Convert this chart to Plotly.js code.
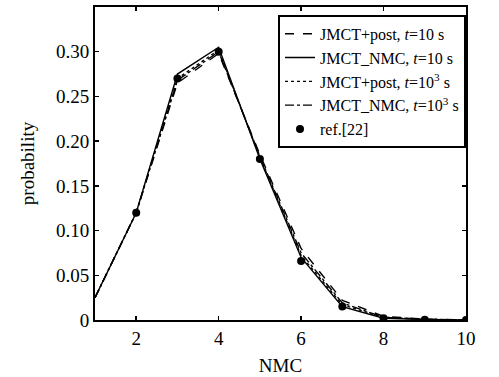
<!DOCTYPE html>
<html><head><meta charset="utf-8">
<script src="https://cdn.plot.ly/plotly-3.0.1.min.js"></script>
<style>body{margin:0;background:#fff}#c{width:499px;height:377px}</style>
</head><body><div id="c"></div>
<script>
const nmc = [1,2,3,4,5,6,7,8,9,10];
const postT10 = [0.025,0.12,0.265,0.298,0.185,0.080,0.022,0.004,0.001,0.0];
const nmcT10 = [0.025,0.12,0.275,0.305,0.180,0.070,0.015,0.002,0.0005,0.0];
const postT1000 = [0.025,0.12,0.270,0.302,0.182,0.072,0.017,0.003,0.0007,0.0];
const nmcT1000 = [0.025,0.12,0.268,0.300,0.183,0.075,0.019,0.003,0.0008,0.0];
const refX = [2,3,4,5,6,7,8,9,10];
const refY = [0.12,0.27,0.30,0.18,0.066,0.015,0.002,0.0003,0.0];
const names = ['JMCT+post, <i>t</i>=10 s','JMCT_NMC, <i>t</i>=10 s','JMCT+post, <i>t</i>=10<sup>3</sup> s','JMCT_NMC, <i>t</i>=10<sup>3</sup> s','ref.[22]'];

const traces = [
 {x:nmc,y:postT10,mode:'lines',name:names[0],line:{color:'#000',width:1.4,dash:'dash'}},
 {x:nmc,y:nmcT10,mode:'lines',name:names[1],line:{color:'#000',width:1.4}},
 {x:nmc,y:postT1000,mode:'lines',name:names[2],line:{color:'#000',width:1.4,dash:'dot'}},
 {x:nmc,y:nmcT1000,mode:'lines',name:names[3],line:{color:'#000',width:1.4,dash:'dashdot'}},
 {x:refX,y:refY,mode:'markers',name:names[4],marker:{color:'#000',size:8}}
];
const layout = {
 width:499,height:377,
 margin:{l:95,r:33,t:7,b:57},
 paper_bgcolor:'#fff',plot_bgcolor:'#fff',
 font:{family:'Liberation Serif, Times New Roman, serif',size:18,color:'#000'},
 showlegend:true,
 xaxis:{range:[1,10],tickvals:[2,4,6,8,10],ticks:'inside',ticklen:4,tickwidth:1.5,tickcolor:'#000',
   showline:true,linewidth:2,linecolor:'#000',mirror:'allticks',showgrid:false,zeroline:false,
   tickfont:{size:19},
   title:{text:'NMC',font:{size:19},standoff:11}},
 yaxis:{range:[0,0.35],tickvals:[0,0.05,0.10,0.15,0.20,0.25,0.30],ticktext:['0','0.05','0.10','0.15','0.20','0.25','0.30'],
   ticks:'inside',ticklen:4,tickwidth:1.5,tickcolor:'#000',
   showline:true,linewidth:2,linecolor:'#000',mirror:'allticks',showgrid:false,zeroline:false,
   tickfont:{size:19},
   title:{text:'probability',font:{size:19},standoff:16}},
 legend:{x:1,y:0.975,xanchor:'right',yanchor:'top',bgcolor:'#fff',bordercolor:'#000',borderwidth:2,
   font:{size:16},tracegroupgap:0,itemwidth:30}
};
Plotly.newPlot('c',traces,layout,{staticPlot:true,displayModeBar:false});
</script></body></html>
